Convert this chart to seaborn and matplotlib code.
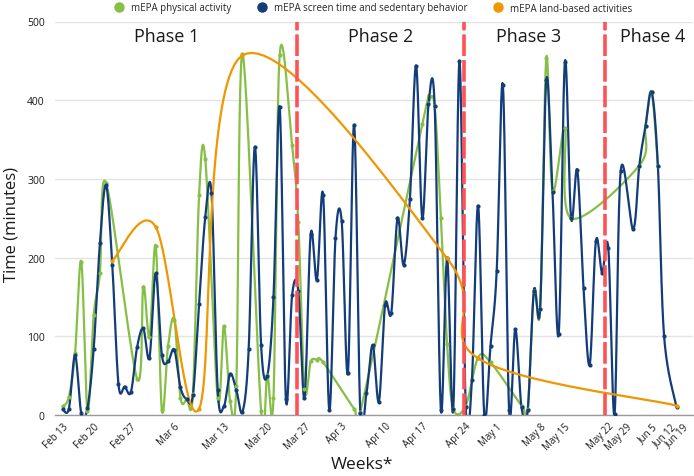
import numpy as np
import pandas as pd
import matplotlib
matplotlib.use("Agg")
import matplotlib.pyplot as plt
import seaborn as sns
from matplotlib.lines import Line2D

nan = np.nan

# one entry per logged session (categorical x axis, index 0..99)
physical = [11, 23, 79, 195, 5, 127, 180, 295, nan, nan,
            nan, nan, 46, 163, 99, 215, 6, 88, 121, 22,
            20, 27, 279, 325, nan, 22, 113, 18, 37, 459,
            nan, nan, 5, 51, 22, 458, nan, 343, 245, 33,
            68, 70, 67, nan, nan, nan, nan, 8, 4, nan,
            nan, nan, nan, nan, nan, nan, nan, nan, 370, 397,
            392, 250, 90, 8, nan, 12, nan, 73, nan, 67,
            nan, nan, nan, nan, 12, 7, 158, 135, 454, 285,
            nan, 365, 250, nan, nan, nan, nan, nan, nan, nan,
            nan, nan, nan, 317, 367, 410, 316, nan, nan, nan]

screen = [7, 8, 76, 2, 9, 84, 218, 292, 191, 39,
          36, 29, 86, 110, 73, 180, 76, 68, 83, 35,
          20, 25, 141, 252, 282, 32, 11, 52, 32, 4,
          84, 341, 89, 50, 150, 391, 20, 152, 158, 22,
          230, 172, 280, 6, 225, 246, 53, 369, 3, 28,
          89, 17, 140, 130, 250, 191, 274, 444, 250, 395,
          392, 6, 199, 8, 450, 10, 44, 266, 0, 88,
          183, 419, 6, 109, 10, 6, 158, 135, 426, 283,
          103, 449, 250, 311, 162, 64, 221, 181, 212, 1,
          310, nan, 236, 317, 367, 410, 316, 100, nan, 10]

land = [nan] * 100
land[8], land[15], land[22], land[29] = 196, 239, 8, 457
land[62], land[67], land[99] = 199, 72, 12

tick_pos = [0, 5, 11, 18, 26, 33, 39, 45, 52, 58, 65, 70, 77, 81, 88, 91, 95, 98, 100]
tick_labels = ['Feb 13', 'Feb 20', 'Feb 27', 'Mar 6', 'Mar 13', 'Mar 20', 'Mar 27',
               'Apr 3', 'Apr 10', 'Apr 17', 'Apr 24', 'May 1', 'May 8', 'May 15',
               'May 22', 'May 29', 'Jun 5', 'Jun 12', 'Jun 19']

phase_names = ['Phase 1', 'Phase 2', 'Phase 3', 'Phase 4']
phase_centers = [16.8, 51.3, 75.2, 95.2]
phase_breaks = [37.8, 64.8, 87.5]

series = [
    ('mEPA physical activity', physical, '#86bf45'),
    ('mEPA screen time and sedentary behavior', screen, '#133c7b'),
    ('mEPA land-based activities', land, '#ef9600'),
]


def smooth_curve(values, k=1/6, steps=30):
    # parametric Catmull-Rom style bezier through the non-missing points
    vals = np.asarray(values, dtype=float)
    idx = np.arange(len(vals), dtype=float)
    keep = ~np.isnan(vals)
    p = np.column_stack([idx[keep], vals[keep]])
    n = len(p)
    t = np.linspace(0, 1, steps)[1:, None]
    xs, ys = [p[0, 0]], [p[0, 1]]
    for i in range(n - 1):
        p0, p3 = p[i], p[i + 1]
        prev = p[i - 1] if i > 0 else p0
        nxt = p[i + 2] if i + 2 < n else p3
        c1 = p0 + k * (p3 - prev)
        c2 = p3 - k * (nxt - p0)
        seg = (1 - t) ** 3 * p0 + 3 * (1 - t) ** 2 * t * c1 + 3 * (1 - t) * t ** 2 * c2 + t ** 3 * p3
        xs.extend(seg[:, 0])
        ys.extend(seg[:, 1])
    return pd.DataFrame({'x': xs, 'y': ys}), pd.DataFrame({'x': p[:, 0], 'y': p[:, 1]})


sns.set_theme(style='white')
plt.rcParams['font.family'] = ['Open Sans', 'DejaVu Sans']

fig = plt.figure(figsize=(6.94, 4.77), dpi=100)
ax = fig.add_axes([54.5 / 694, 61 / 477, (693 - 54.5) / 694, (416 - 22.5) / 477])

for name, vals, color in series:
    curve, pts = smooth_curve(vals)
    sns.lineplot(data=curve, x='x', y='y', sort=False, estimator=None,
                 color=color, linewidth=1.6, ax=ax)
    sns.scatterplot(data=pts, x='x', y='y', color=color, s=9, linewidth=0, ax=ax, zorder=3)

for xb in phase_breaks:
    ax.axvline(xb, color='#ff5257', linewidth=2.6, linestyle=(0, (6, 1.1)), zorder=5)

for name, xc in zip(phase_names, phase_centers):
    ax.text(xc, 481, name, ha='center', va='center', fontsize=13, color='#1a1a1a')

ax.set_xlim(-1.32, 101.66)
ax.set_ylim(0, 500)
ax.set_yticks([0, 100, 200, 300, 400, 500])
ax.yaxis.grid(True, color='#e3e3e3', linewidth=1)
ax.xaxis.grid(False)
for s in ['left', 'right', 'top']:
    ax.spines[s].set_visible(False)
ax.spines['bottom'].set_color('#9a9a9a')
ax.spines['bottom'].set_linewidth(1)
ax.set_xticks(tick_pos)
ax.set_xticklabels(tick_labels, rotation=45, ha='right', rotation_mode='anchor', fontsize=7)
ax.tick_params(axis='x', length=0, pad=4, colors='#1a1a1a')
ax.tick_params(axis='y', length=0, pad=7, labelsize=7.5, colors='#1a1a1a')
ax.set_xlabel('')
ax.set_ylabel('')

fig.text(12 / 694, 1 - 224 / 477, 'Time (minutes)', rotation=90, ha='center', va='center',
         fontsize=12, color='#1a1a1a')
fig.text(362 / 694, 1 - 465 / 477, 'Weeks*', ha='center', va='center', fontsize=12.5, color='#1a1a1a')

handles = [Line2D([], [], marker='o', linestyle='None', color=c, markersize=6.5) for _, _, c in series]
fig.legend(handles, [n for n, _, _ in series], loc='center', bbox_to_anchor=(0.534, 1 - 9 / 477),
           ncol=3, frameon=False, fontsize=7, handletextpad=0.2, columnspacing=2.2)

fig.savefig('out.png', dpi=100)
